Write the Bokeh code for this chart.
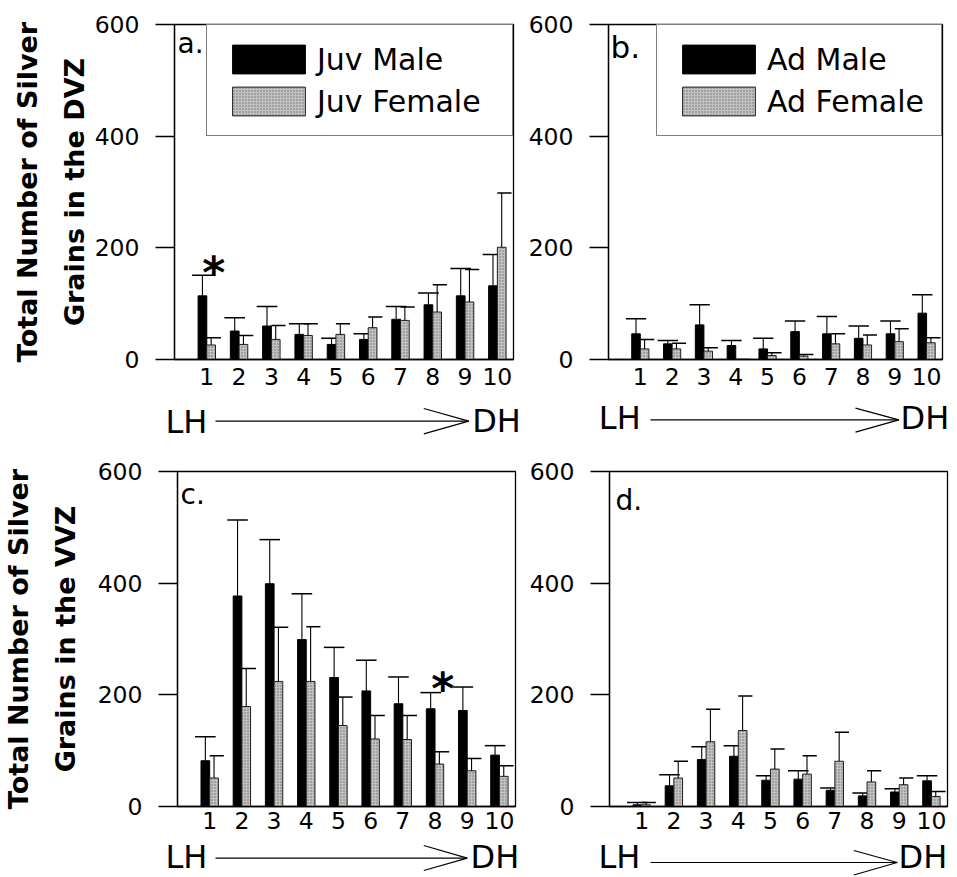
import numpy as np
from bokeh.plotting import figure
from bokeh.models import (Range1d, FixedTicker, Label, Arrow, Legend, LegendItem,
                          ColumnDataSource)
from bokeh.layouts import row, column
from bokeh.transform import dodge
from bokeh.embed import file_html
from bokeh.resources import INLINE

# ---------------- data ----------------
regions = [1, 2, 3, 4, 5, 6, 7, 8, 9, 10]
y_ticks = [0, 200, 400, 600]

# a. DVZ, juveniles
juv_male_dvz = [114, 51, 60, 45, 27, 36, 72, 98, 114, 132]
juv_male_dvz_err = [37, 24, 35, 19, 11, 10, 23, 21, 49, 56]
juv_female_dvz = [26, 27, 36, 43, 45, 57, 70, 85, 103, 201]
juv_female_dvz_err = [13, 16, 25, 21, 19, 19, 24, 49, 58, 97]

# b. DVZ, adults
ad_male_dvz = [46, 28, 62, 25, 19, 50, 46, 38, 46, 83]
ad_male_dvz_err = [27, 6, 36, 9, 19, 19, 31, 22, 23, 33]
ad_female_dvz = [19, 19, 15, 0, 7, 6, 28, 26, 32, 30]
ad_female_dvz_err = [17, 10, 6, 0, 5, 3, 18, 18, 23, 9]

# c. VVZ, juveniles
juv_male_vvz = [82, 377, 399, 299, 231, 207, 184, 175, 172, 92]
juv_male_vvz_err = [43, 136, 79, 82, 54, 55, 48, 29, 42, 17]
juv_female_vvz = [51, 179, 224, 224, 145, 121, 120, 76, 64, 54]
juv_female_vvz_err = [40, 68, 97, 98, 51, 42, 43, 22, 22, 19]

# d. VVZ, adults
ad_male_vvz = [3, 37, 84, 90, 47, 49, 29, 19, 26, 46]
ad_male_vvz_err = [4, 20, 23, 19, 8, 15, 4, 5, 6, 9]
ad_female_vvz = [3, 51, 116, 136, 67, 58, 81, 44, 39, 18]
ad_female_vvz_err = [4, 30, 58, 62, 36, 33, 52, 20, 12, 9]

ylabel_dvz = "Total Number of Silver\nGrains in the DVZ"
ylabel_vvz = "Total Number of Silver\nGrains in the VVZ"

FONT = "DejaVu Sans"
X_MAX = 10.5
Y_MAX = 600
BAR_W = 0.27
OFF = 0.135
SHIFT = 0.39   # empirical baseline correction (fraction of font size)


def blank(w, h):
    """A figure without axes whose data units are its own pixels (y downward)."""
    p = figure(width=w, height=h, output_backend="svg", toolbar_location=None,
               title=None,
               x_range=Range1d(0, w), y_range=Range1d(h, 0),
               x_axis_location=None, y_axis_location=None,
               min_border=0, min_border_left=0, min_border_right=0,
               min_border_top=0, min_border_bottom=0)
    p.grid.visible = False
    p.outline_line_color = None
    p.background_fill_color = "white"
    p.border_fill_color = "white"
    return p


def arrow_fig(origin, size, geom, fs=32):
    ox, oy = origin
    p = blank(*size)
    lh_x, lh_base, ly, lx0, tip, back, arm_up, arm_dn, dh_x, dh_base = geom
    for txt, tx, tb in [("LH", lh_x, lh_base), ("DH", dh_x, dh_base)]:
        p.add_layout(Label(x=tx - ox, y=tb - SHIFT * fs - oy, text=txt,
                           text_font=FONT, text_font_size=f"{fs}px",
                           text_align="left", text_baseline="alphabetic",
                           text_color="black"))
    for (x0, y0, x1, y1) in [(lx0, ly, tip, ly), (back, arm_up, tip, ly),
                             (back, arm_dn, tip, ly)]:
        p.add_layout(Arrow(x_start=x0 - ox, y_start=y0 - oy, x_end=x1 - ox,
                           y_end=y1 - oy, start=None, end=None,
                           line_color="black", line_width=1.2))
    return p


def build(origin, size, frame, male, merr, female, ferr, letter, letter_pos,
          letter_size, legend_names, legend_w, star, ylabel, ylabel_standoff,
          x_standoff):
    ox, oy = origin
    fw, fh = size
    L, T, R, B = frame
    p = figure(width=fw, height=fh, output_backend="svg", toolbar_location=None,
               title=None,
               x_range=Range1d(0, X_MAX), y_range=Range1d(0, Y_MAX),
               min_border_left=L - ox, min_border_right=ox + fw - R,
               min_border_top=T - oy, min_border_bottom=oy + fh - B)
    p.grid.visible = False
    p.background_fill_color = "white"
    p.border_fill_color = "white"
    p.outline_line_color = "black"
    p.outline_line_width = 1.3
    p.outline_line_alpha = 1.0

    def dx(px):
        return (px - L) / (R - L) * X_MAX

    def dy(py):
        return (B - py) / (B - T) * Y_MAX

    xa = p.xaxis[0]
    xa.ticker = FixedTicker(ticks=regions)
    xa.major_tick_out = 0
    xa.major_tick_in = 0
    xa.minor_tick_out = 0
    xa.minor_tick_in = 0
    xa.axis_line_color = "black"
    xa.axis_line_width = 1.3
    xa.major_label_text_font = FONT
    xa.major_label_text_font_size = "23.5px"
    xa.major_label_text_color = "black"
    xa.major_label_standoff = x_standoff

    ya = p.yaxis[0]
    ya.ticker = FixedTicker(ticks=y_ticks)
    ya.major_tick_out = 19
    ya.major_tick_in = 0
    ya.minor_tick_out = 0
    ya.minor_tick_in = 0
    ya.major_tick_line_width = 1.3
    ya.major_tick_line_color = "black"
    ya.axis_line_color = "black"
    ya.axis_line_width = 1.3
    ya.major_label_text_font = FONT
    ya.major_label_text_font_size = "23.5px"
    ya.major_label_text_color = "black"
    ya.major_label_standoff = 16
    if ylabel:
        ya.axis_label = ylabel
        ya.axis_label_text_font = FONT
        ya.axis_label_text_font_size = "27px"
        ya.axis_label_text_font_style = "bold"
        ya.axis_label_text_color = "black"
        ya.axis_label_text_line_height = 1.5
        ya.axis_label_standoff = ylabel_standoff

    src = ColumnDataSource(dict(
        x=regions, male=male, female=female,
        male_hi=list(np.array(male) + np.array(merr)),
        female_hi=list(np.array(female) + np.array(ferr)),
    ))

    rm = p.vbar(x=dodge("x", -OFF, range=p.x_range), top="male", bottom=0,
                width=BAR_W, source=src, fill_color="black",
                line_color="black", line_width=1)
    p.segment(x0=dodge("x", -OFF, range=p.x_range), y0="male",
              x1=dodge("x", -OFF, range=p.x_range), y1="male_hi",
              source=src, line_color="black", line_width=1.1)
    p.segment(x0=dodge("x", -OFF - 0.32, range=p.x_range), y0="male_hi",
              x1=dodge("x", -OFF + 0.32, range=p.x_range), y1="male_hi",
              source=src, line_color="black", line_width=1.5)

    rf = p.vbar(x=dodge("x", OFF, range=p.x_range), top="female", bottom=0,
                width=BAR_W, source=src, fill_color="#c2c2c2",
                hatch_pattern="dot", hatch_color="#6e6e6e", hatch_scale=3,
                hatch_weight=1, line_color="#202020", line_width=1)
    p.segment(x0=dodge("x", OFF, range=p.x_range), y0="female",
              x1=dodge("x", OFF, range=p.x_range), y1="female_hi",
              source=src, line_color="black", line_width=1.1)
    p.segment(x0=dodge("x", 0.0, range=p.x_range), y0="female_hi",
              x1=dodge("x", 0.44, range=p.x_range), y1="female_hi",
              source=src, line_color="black", line_width=1.5)

    lfs = letter_size
    p.add_layout(Label(x=dx(letter_pos[0]), y=dy(letter_pos[1] - SHIFT * lfs),
                       text=letter, text_font=FONT, text_font_size=f"{lfs}px",
                       text_align="left", text_baseline="alphabetic",
                       text_color="black"))

    if legend_names:
        pad, gw, gh, stand = 16, 91, 36, 3
        leg = Legend(items=[LegendItem(label=legend_names[0], renderers=[rm]),
                            LegendItem(label=legend_names[1], renderers=[rf])],
                     location="top_right", margin=0, padding=pad, spacing=6,
                     glyph_width=gw, glyph_height=gh, label_height=gh,
                     label_standoff=stand,
                     label_width=legend_w - 2 * pad - gw - stand,
                     label_text_font=FONT, label_text_font_size="30px",
                     label_text_color="black",
                     border_line_color="black", border_line_width=1.3,
                     background_fill_color="white", background_fill_alpha=1.0)
        p.add_layout(leg)

    if star:
        p.add_layout(Label(x=dx(star[0]), y=dy(star[1] + 5), text="*",
                           text_font=FONT, text_font_size="44px",
                           text_font_style="bold", text_align="center",
                           text_baseline="alphabetic", text_color="black"))
    return p


# rows: 0-397, 397-447, 447-839, 839-877 (frames in a row share top/bottom)
H1, H2, H3, H4 = 397, 50, 392, 38
Y2, Y3, Y4 = H1, H1 + H2, H1 + H2 + H3
T1, B1 = 24, 359
T3, B3 = 471, 806

pa = build((0, 0), (525, H1), (174, T1, 513, B1),
           juv_male_dvz, juv_male_dvz_err, juv_female_dvz, juv_female_dvz_err,
           "a.", (177, 54), 28, ["Juv Male", "Juv Female"], 305,
           (213.3, 266.7), ylabel_dvz, 2, 8)
pb = build((525, 0), (432, H1), (605, T1, 942, B1),
           ad_male_dvz, ad_male_dvz_err, ad_female_dvz, ad_female_dvz_err,
           "b.", (607, 59), 31, ["Ad Male", "Ad Female"], 284, None, None, 0, 8)

arr_a = arrow_fig((0, Y2), (525, H2),
                  (165, 434, 420.7, 215, 468.3, 423.3, 408.0, 433.4, 471.7, 433.3))
arr_b = arrow_fig((525, Y2), (432, H2),
                  (598.3, 430, 419.3, 650, 898.3, 855, 407.7, 431.7, 900, 430))

pc = build((0, Y3), (525, H3), (177, T3, 515, B3),
           juv_male_vvz, juv_male_vvz_err, juv_female_vvz, juv_female_vvz_err,
           "c.", (180, 505), 28, None, 0, (442.3, 683.3), ylabel_vvz, 14, 5)
pd_ = build((525, Y3), (432, H3), (609, T3, 947, B3),
            ad_male_vvz, ad_male_vvz_err, ad_female_vvz, ad_female_vvz_err,
            "d.", (615, 511), 28, None, 0, None, None, 0, 5)

arr_c = arrow_fig((0, Y4), (525, H4),
                  (165, 869.3, 857.7, 215, 466.7, 423.3, 845, 870, 470, 869.3))
arr_d = arrow_fig((525, Y4), (432, H4),
                  (598, 869.3, 862.0, 650, 896.7, 853.3, 850, 874.5, 898, 869.3))

layout = column(row(pa, pb), row(arr_a, arr_b),
                row(pc, pd_), row(arr_c, arr_d))
open("out.html", "w").write(file_html(layout, INLINE))
